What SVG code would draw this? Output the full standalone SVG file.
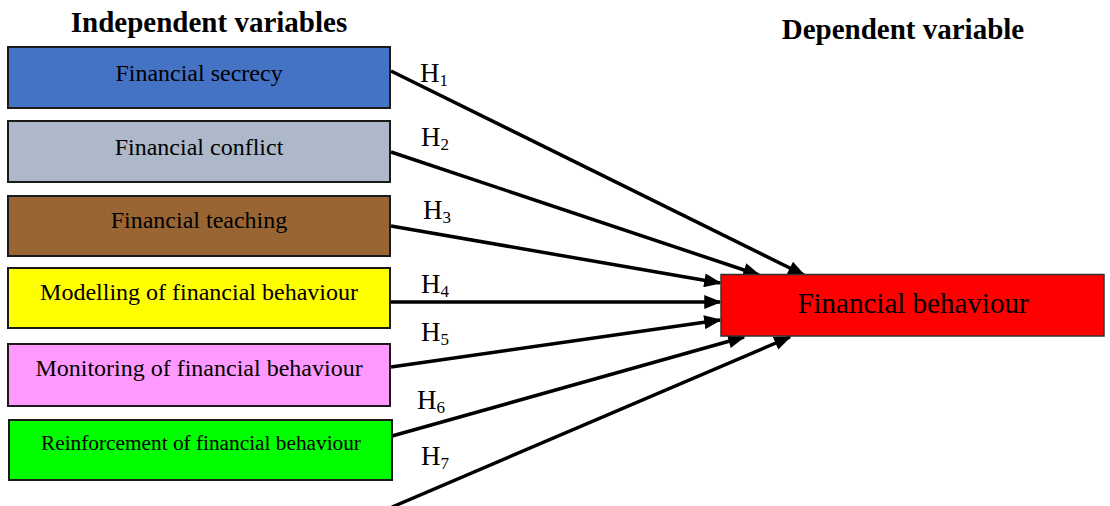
<svg xmlns="http://www.w3.org/2000/svg" width="1110" height="506" viewBox="0 0 1110 506">
<style>
.box{stroke:#1a1a1a;stroke-width:2}
.t{font-family:"Liberation Serif","Times New Roman",serif;fill:#000;text-anchor:middle}
.title{font-family:"Liberation Serif","Times New Roman",serif;font-weight:bold;font-size:29px;fill:#000;text-anchor:middle}
.h{font-family:"Liberation Serif","Times New Roman",serif;font-size:27px;fill:#000}
.sub{font-size:17px}
.conn{stroke:#000;stroke-width:3.5;fill:none;marker-end:url(#arr)}
</style>
<defs>
<marker id="arr" viewBox="0 0 10 8" refX="9" refY="4" markerWidth="18" markerHeight="14" markerUnits="userSpaceOnUse" orient="auto">
<path d="M0,0 L10,4 L0,8 z" fill="#000"/>
</marker>
</defs>
<rect width="1110" height="506" fill="#fff"/>
<text class="title" x="209" y="32">Independent variables</text>
<text class="title" x="903" y="39">Dependent variable</text>

<g id="connectors">
<line class="conn" x1="391" y1="71" x2="804" y2="275"/>
<line class="conn" x1="391" y1="152" x2="759" y2="275"/>
<line class="conn" x1="391" y1="226" x2="720" y2="283"/>
<line class="conn" x1="391" y1="302" x2="720" y2="302"/>
<line class="conn" x1="391" y1="367" x2="720" y2="320"/>
<line class="conn" x1="392" y1="436" x2="744" y2="337"/>
<line class="conn" x1="392" y1="507" x2="790" y2="337"/>
<text class="h" x="420" y="82">H<tspan class="sub" dy="4">1</tspan></text>
<text class="h" x="421" y="146">H<tspan class="sub" dy="4">2</tspan></text>
<text class="h" x="423" y="219">H<tspan class="sub" dy="4">3</tspan></text>
<text class="h" x="421" y="293">H<tspan class="sub" dy="4">4</tspan></text>
<text class="h" x="421" y="341">H<tspan class="sub" dy="4">5</tspan></text>
<text class="h" x="417" y="409">H<tspan class="sub" dy="4">6</tspan></text>
<text class="h" x="421" y="465">H<tspan class="sub" dy="4">7</tspan></text>
</g>

<g id="n1"><rect class="box" x="8" y="47" width="382" height="61" fill="#4472C4"/><text class="t" x="199" y="81" font-size="24">Financial secrecy</text></g>
<g id="n2"><rect class="box" x="8" y="121" width="382" height="61" fill="#ADB9CA"/><text class="t" x="199" y="155" font-size="24">Financial conflict</text></g>
<g id="n3"><rect class="box" x="8" y="196" width="382" height="60" fill="#996633"/><text class="t" x="199" y="228" font-size="24">Financial teaching</text></g>
<g id="n4"><rect class="box" x="8" y="268" width="382" height="60" fill="#FFFF00"/><text class="t" x="199" y="300" font-size="24">Modelling of financial behaviour</text></g>
<g id="n5"><rect class="box" x="8" y="344" width="382" height="62" fill="#FF99FF"/><text class="t" x="199" y="376" font-size="24">Monitoring of financial behaviour</text></g>
<g id="n6"><rect class="box" x="9" y="420" width="383" height="60" fill="#00FF00"/><text class="t" x="201" y="450" font-size="21.3">Reinforcement of financial behaviour</text></g>
<g id="target"><rect x="721" y="274.5" width="383" height="61.5" fill="#FF0000" stroke="#333" stroke-width="1.5"/><text class="t" x="913" y="313" font-size="29">Financial behaviour</text></g>
</svg>
